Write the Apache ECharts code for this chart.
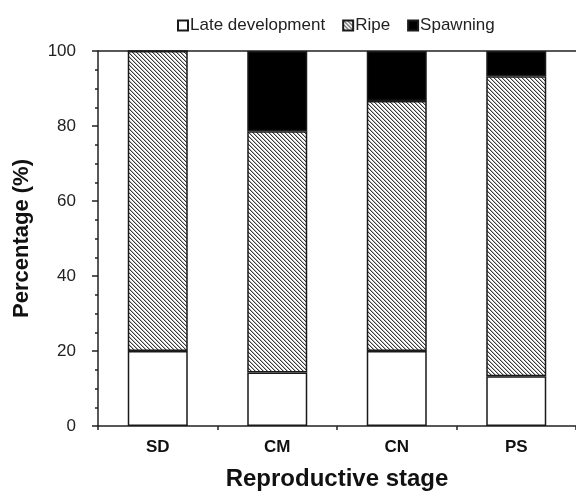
<!DOCTYPE html>
<html>
<head>
<meta charset="utf-8">
<script src="https://cdn.jsdelivr.net/npm/echarts@6/dist/echarts.min.js"></script>
<style>
  html, body { margin: 0; padding: 0; background: #fff; }
  #chart { width: 576px; height: 501px; }
</style>
</head>
<body>
<div id="chart"></div>
<script>
// Reproductive stage composition (% of individuals) per site
const categories = ['SD', 'CM', 'CN', 'PS'];
const lateDevelopment = [20, 14.3, 20, 13.3];
const ripe = [80, 64.3, 66.7, 80];
const spawning = [0, 21.4, 13.3, 6.7];
const yTicks = [0, 20, 40, 60, 80, 100];

// Diagonal hatch tile for the "Ripe" segments
function hatchTile() {
  const c = document.createElement('canvas');
  c.width = 4; c.height = 4;
  const g = c.getContext('2d');
  g.fillStyle = '#ffffff';
  g.fillRect(0, 0, 4, 4);
  for (let i = 0; i < 4; i++) {
    g.fillStyle = '#3a3a3a';
    g.fillRect(i, i, 1, 1);
    g.fillStyle = '#b8b8b8';
    g.fillRect((i + 1) % 4, i, 1, 1);
  }
  return c;
}
const hatch = { image: hatchTile(), repeat: 'repeat' };

const font = 'Liberation Sans, Arial, sans-serif';
const chart = echarts.init(document.getElementById('chart'), null, { renderer: 'canvas' });

const segStyle = (fill) => ({ color: fill, borderColor: '#1a1a1a', borderWidth: 1.5 });

chart.setOption({
  animation: false,
  backgroundColor: '#ffffff',
  textStyle: { fontFamily: font },
  legend: {
    left: 172,
    top: 12,
    icon: 'rect',
    itemWidth: 10,
    itemHeight: 10,
    itemGap: 17,
    textStyle: { fontSize: 17, color: '#222', fontFamily: font, padding: [0, 0, 0, -3] },
    data: ['Late development', 'Ripe', 'Spawning']
  },
  grid: {
    left: 98,
    top: 51,
    width: 480,
    height: 375
  },
  xAxis: [
    {
      type: 'category',
      data: categories,
      name: 'Reproductive stage',
      nameLocation: 'middle',
      nameGap: 41,
      nameTextStyle: { fontSize: 24, fontWeight: 'bold', color: '#111', fontFamily: font },
      axisLine: { lineStyle: { color: '#222', width: 1.5 } },
      axisTick: { show: true, length: 4, lineStyle: { color: '#222', width: 1.5 } },
      axisLabel: { fontSize: 17, fontWeight: 'bold', color: '#111', margin: 13, fontFamily: font },
      splitLine: { show: false }
    },
    {
      // top frame line of the plot area
      type: 'category',
      data: categories,
      position: 'top',
      axisLine: { show: true, lineStyle: { color: '#222', width: 1.5 } },
      axisTick: { show: false },
      axisLabel: { show: false },
      splitLine: { show: false }
    }
  ],
  yAxis: {
    type: 'value',
    min: yTicks[0],
    max: yTicks[yTicks.length - 1],
    interval: 20,
    name: 'Percentage (%)',
    nameLocation: 'middle',
    nameGap: 65,
    nameTextStyle: { fontSize: 22, fontWeight: 'bold', color: '#111', fontFamily: font },
    axisLine: { show: true, lineStyle: { color: '#222', width: 1.5 } },
    axisTick: { show: true, length: 6, lineStyle: { color: '#222', width: 1.5 } },
    minorTick: { show: true, splitNumber: 4, length: 3, lineStyle: { color: '#222', width: 1.5 } },
    axisLabel: { fontSize: 17, color: '#222', margin: 22, fontFamily: font },
    splitLine: { show: false }
  },
  series: [
    {
      name: 'Late development', type: 'bar', stack: 'total', barWidth: 60,
      data: lateDevelopment, itemStyle: segStyle('#ffffff')
    },
    {
      name: 'Ripe', type: 'bar', stack: 'total', barWidth: 60,
      data: ripe, itemStyle: segStyle(hatch)
    },
    {
      name: 'Spawning', type: 'bar', stack: 'total', barWidth: 60,
      data: spawning, itemStyle: segStyle('#000000')
    }
  ]
});
</script>
</body>
</html>
